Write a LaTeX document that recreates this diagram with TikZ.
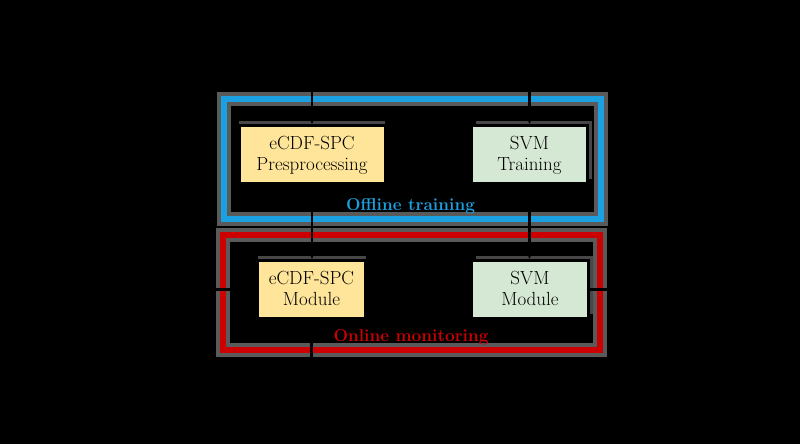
\documentclass[tikz,border=0pt]{standalone}
\usetikzlibrary{arrows.meta,shadows}
\definecolor{boxyellow}{HTML}{FFE599}
\definecolor{boxgreen}{HTML}{D5E8D4}
\definecolor{frameblue}{HTML}{1BA1E2}
\definecolor{framered}{HTML}{CC0000}
\definecolor{halogray}{HTML}{5A5A5A}
\definecolor{shadowgray}{HTML}{474747}
\newcommand{\topstrut}{\rule{0pt}{17pt}}
\newcommand{\botstrut}{\rule[-6pt]{0pt}{6pt}}
\begin{document}
\begin{tikzpicture}[x=1pt,y=-1pt,
  blockbox/.style={draw=black, line width=3pt, minimum height=58pt, inner sep=0pt,
    align=center, font=\fontsize{19}{20.5}\selectfont},
  leftshadow/.style={drop shadow={shadow xshift=0pt, shadow yshift=4.5pt, opacity=1, fill=shadowgray}},
  rightshadow/.style={drop shadow={shadow xshift=4pt, shadow yshift=4.5pt, opacity=1, fill=shadowgray}},
  yellowbox/.style={blockbox, leftshadow, fill=boxyellow},
  greenbox/.style={blockbox, rightshadow, fill=boxgreen},
  framebox/.style={rectangle, inner sep=0pt, line width=6pt,
    preaction={draw=halogray, line width=14pt}},
  framelabel/.style={anchor=base, inner sep=0pt, font=\fontsize{17.2}{19}\selectfont\bfseries},
  arr/.style={draw=black, line width=2.5pt, -{Stealth[length=9pt,width=8pt]}}
]
\fill[black] (0,0) rectangle (800,444);
\useasboundingbox (0,0) rectangle (800,444);

% frames
\node[framebox, draw=frameblue, minimum width=377pt, minimum height=120pt] (offframe) at (412.5,159) {};
\node[framebox, draw=framered, minimum width=377pt, minimum height=114.5pt] (onframe) at (411.5,292.25) {};

% frame labels
\node[framelabel, text=frameblue] (offlabel) at (410.5,210) {Offline training};
\node[framelabel, text=framered] (onlabel) at (411,341) {Online monitoring};

% blocks
\node[yellowbox, minimum width=146pt] (pre) at (312,154.5) {\topstrut eCDF-SPC\\Presprocessing\botstrut};
\node[greenbox, minimum width=116pt] (train) at (529.5,154.5) {\topstrut SVM\\Training\botstrut};
\node[yellowbox, minimum width=108pt] (mod) at (311.5,289.5) {\topstrut eCDF-SPC\\Module\botstrut};
\node[greenbox, minimum width=117pt] (svm) at (530,289.5) {\topstrut SVM\\Module\botstrut};

% connectors (black)
\coordinate (inA) at (312,55);
\coordinate (inB) at (529.5,55);
\coordinate (inL) at (170,289.5);
\coordinate (outR) at (650,289.5);
\coordinate (outD) at (311.5,395);
\draw[arr] (inA) -- (pre.north);
\draw[arr] (inB) -- (train.north);
\draw[arr] (pre) -- (train);
\draw[arr] (pre.south) -- (pre.south |- mod.north);
\draw[arr] (train.south) -- (train.south |- svm.north);
\draw[arr] (inL) -- (mod.west);
\draw[arr] (mod) -- (svm);
\draw[arr] (svm.east) -- (outR);
\draw[arr] (mod.south) -- (outD);
\end{tikzpicture}
\end{document}
